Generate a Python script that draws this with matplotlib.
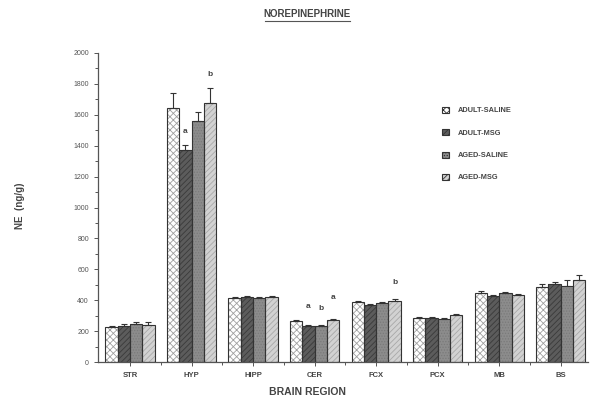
import matplotlib
matplotlib.use("Agg")
import matplotlib.pyplot as plt
import numpy as np
from matplotlib.patches import Patch
from matplotlib.ticker import MultipleLocator, FixedLocator

plt.rcParams['font.family'] = ['Liberation Sans', 'DejaVu Sans']
plt.rcParams['hatch.linewidth'] = 0.6

regions = ["STR", "HYP", "HIPP", "CER", "FCX", "PCX", "MB", "BS"]
groups = ["ADULT-SALINE", "ADULT-MSG", "AGED-SALINE", "AGED-MSG"]

adult_saline = [225, 1646, 415, 267, 386, 283, 449, 483]
adult_msg    = [235, 1372, 418, 235, 369, 283, 427, 503]
aged_saline  = [248, 1560, 412, 235, 380, 278, 445, 494]
aged_msg     = [240, 1674, 418, 272, 397, 304, 434, 531]

err_adult_saline = [8, 93, 8, 8, 8, 6, 8, 20]
err_adult_msg    = [8, 32, 8, 6, 6, 6, 8, 14]
err_aged_saline  = [8, 60, 8, 6, 8, 8, 8, 35]
err_aged_msg     = [17, 100, 8, 8, 8, 6, 8, 32]

# significance letters: (region index, group index, letter, y value)
sig_region = [1, 1, 3, 3, 3, 4]
sig_group = [1, 3, 1, 2, 3, 3]
sig_letter = ["a", "b", "a", "b", "a", "b"]
sig_y = [1470, 1840, 335, 325, 395, 495]

values = [adult_saline, adult_msg, aged_saline, aged_msg]
errors = [err_adult_saline, err_adult_msg, err_aged_saline, err_aged_msg]

styles = [
    dict(fc="white", hatch="xxxxx", hc="#a0a0a0"),
    dict(fc="#5c5c5c", hatch="//////", hc="#3a3a3a"),
    dict(fc="#8c8c8c", hatch="......", hc="#7a7a7a"),
    dict(fc="#d2d2d2", hatch="//////", hc="#a8a8a8"),
]

fig = plt.figure(figsize=(5.92, 4.03), dpi=100)
ax = fig.add_axes([0.1655, 0.1017, 0.8275, 0.7668])

x = np.arange(len(regions))
w = 0.2
edge = "#333333"
for i, (vals, errs, st) in enumerate(zip(values, errors, styles)):
    pos = x + (i - 1.5) * w
    ax.bar(pos, vals, width=w, color=st["fc"], hatch=st["hatch"],
           edgecolor=st["hc"], linewidth=0, zorder=2)
    ax.bar(pos, vals, width=w, fill=False, edgecolor=edge, linewidth=0.8, zorder=3)
    ax.errorbar(pos, vals, yerr=[np.zeros(len(vals)), errs], fmt="none",
                ecolor=edge, elinewidth=0.8, capsize=2.5, capthick=0.8, zorder=4)

for r, g, letter, yv in zip(sig_region, sig_group, sig_letter, sig_y):
    ax.text(x[r] + (g - 1.5) * w, yv, letter, ha="center", va="bottom",
            fontsize=6, color="#444444", fontweight="bold")

ax.set_xlim(-0.52, 7.44)
ax.set_ylim(0, 2000)
ax.spines["top"].set_visible(False)
ax.spines["right"].set_visible(False)
for s in ["left", "bottom"]:
    ax.spines[s].set_color("#555555")
    ax.spines[s].set_linewidth(0.9)

ax.yaxis.set_major_locator(MultipleLocator(200))
ax.yaxis.set_minor_locator(MultipleLocator(100))
ax.set_xticks(x)
ax.set_xticklabels(regions, fontsize=5.5, fontweight="bold", color="#444444")
ax.xaxis.set_minor_locator(FixedLocator(x[:-1] + 0.5))
ax.tick_params(axis="y", which="major", labelsize=5, labelcolor="#555555",
               length=3, color="#555555", width=0.7)
ax.tick_params(axis="y", which="minor", length=2, color="#555555", width=0.7)
ax.tick_params(axis="x", which="major", length=3, color="#555555", width=0.7, pad=4)
ax.tick_params(axis="x", which="minor", length=2, color="#555555", width=0.7)

fig.text(0.519, 0.965, "NOREPINEPHRINE", ha="center", va="center",
         fontsize=7, fontweight="bold", color="#444444")
fig.add_artist(plt.Line2D([0.447, 0.591], [0.948, 0.948], transform=fig.transFigure,
                          color="#555555", linewidth=0.8))
fig.text(0.519, 0.027, "BRAIN REGION", ha="center", va="center",
         fontsize=7.5, fontweight="bold", color="#444444")
fig.text(0.034, 0.49, "NE  (ng/g)", ha="center", va="center", rotation=90,
         fontsize=7, fontweight="bold", color="#444444")

handles = [Patch(facecolor=st["fc"], hatch=st["hatch"], edgecolor=edge, linewidth=0.8)
           for st in styles]
leg = ax.legend(handles, groups, loc="upper left", bbox_to_anchor=(0.689, 0.847),
                frameon=False, fontsize=5.3, handlelength=0.9, handleheight=0.9,
                labelspacing=2.0, handletextpad=1.2)
for t in leg.get_texts():
    t.set_color("#444444")
    t.set_fontweight("bold")

fig.savefig("out.png", dpi=100)
